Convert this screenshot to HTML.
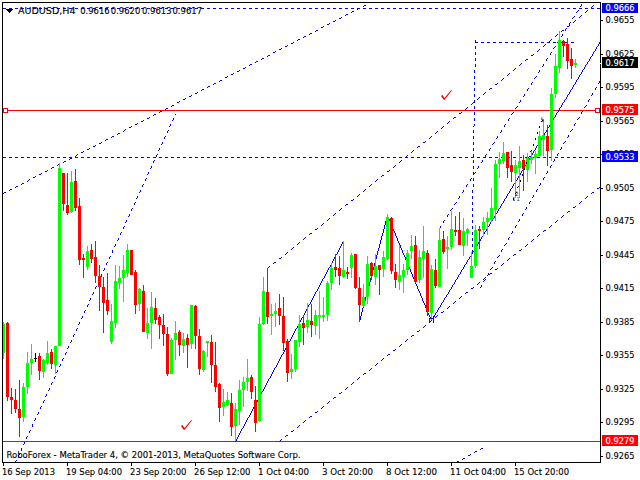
<!DOCTYPE html>
<html><head><meta charset="utf-8"><style>
html,body{margin:0;padding:0;background:#fff;width:640px;height:480px;overflow:hidden}
svg{display:block}
text{font-family:"DejaVu Sans Condensed","Liberation Sans",sans-serif;font-size:9.5px;fill:#000;stroke:#000;stroke-width:0.12px}
.w{fill:#fff;stroke:#fff}
</style></head><body>
<svg width="640" height="480" viewBox="0 0 640 480">
<rect x="0" y="0" width="640" height="480" fill="#fff"/>
<defs><clipPath id="ca"><rect x="3" y="3" width="597" height="459"/></clipPath></defs>
<g clip-path="url(#ca)" shape-rendering="crispEdges">
<rect x="3" y="8" width="3" height="1" fill="#0000ff"/><rect x="9" y="8" width="3" height="1" fill="#0000ff"/><rect x="15" y="8" width="3" height="1" fill="#0000ff"/><rect x="21" y="8" width="3" height="1" fill="#0000ff"/><rect x="27" y="8" width="3" height="1" fill="#0000ff"/><rect x="33" y="8" width="3" height="1" fill="#0000ff"/><rect x="39" y="8" width="3" height="1" fill="#0000ff"/><rect x="45" y="8" width="3" height="1" fill="#0000ff"/><rect x="51" y="8" width="3" height="1" fill="#0000ff"/><rect x="57" y="8" width="3" height="1" fill="#0000ff"/><rect x="63" y="8" width="3" height="1" fill="#0000ff"/><rect x="69" y="8" width="3" height="1" fill="#0000ff"/><rect x="75" y="8" width="3" height="1" fill="#0000ff"/><rect x="81" y="8" width="3" height="1" fill="#0000ff"/><rect x="87" y="8" width="3" height="1" fill="#0000ff"/><rect x="93" y="8" width="3" height="1" fill="#0000ff"/><rect x="99" y="8" width="3" height="1" fill="#0000ff"/><rect x="105" y="8" width="3" height="1" fill="#0000ff"/><rect x="111" y="8" width="3" height="1" fill="#0000ff"/><rect x="117" y="8" width="3" height="1" fill="#0000ff"/><rect x="123" y="8" width="3" height="1" fill="#0000ff"/><rect x="129" y="8" width="3" height="1" fill="#0000ff"/><rect x="135" y="8" width="3" height="1" fill="#0000ff"/><rect x="141" y="8" width="3" height="1" fill="#0000ff"/><rect x="147" y="8" width="3" height="1" fill="#0000ff"/><rect x="153" y="8" width="3" height="1" fill="#0000ff"/><rect x="159" y="8" width="3" height="1" fill="#0000ff"/><rect x="165" y="8" width="3" height="1" fill="#0000ff"/><rect x="171" y="8" width="3" height="1" fill="#0000ff"/><rect x="177" y="8" width="3" height="1" fill="#0000ff"/><rect x="183" y="8" width="3" height="1" fill="#0000ff"/><rect x="189" y="8" width="3" height="1" fill="#0000ff"/><rect x="195" y="8" width="3" height="1" fill="#0000ff"/><rect x="201" y="8" width="3" height="1" fill="#0000ff"/><rect x="207" y="8" width="3" height="1" fill="#0000ff"/><rect x="213" y="8" width="3" height="1" fill="#0000ff"/><rect x="219" y="8" width="3" height="1" fill="#0000ff"/><rect x="225" y="8" width="3" height="1" fill="#0000ff"/><rect x="231" y="8" width="3" height="1" fill="#0000ff"/><rect x="237" y="8" width="3" height="1" fill="#0000ff"/><rect x="243" y="8" width="3" height="1" fill="#0000ff"/><rect x="249" y="8" width="3" height="1" fill="#0000ff"/><rect x="255" y="8" width="3" height="1" fill="#0000ff"/><rect x="261" y="8" width="3" height="1" fill="#0000ff"/><rect x="267" y="8" width="3" height="1" fill="#0000ff"/><rect x="273" y="8" width="3" height="1" fill="#0000ff"/><rect x="279" y="8" width="3" height="1" fill="#0000ff"/><rect x="285" y="8" width="3" height="1" fill="#0000ff"/><rect x="291" y="8" width="3" height="1" fill="#0000ff"/><rect x="297" y="8" width="3" height="1" fill="#0000ff"/><rect x="303" y="8" width="3" height="1" fill="#0000ff"/><rect x="309" y="8" width="3" height="1" fill="#0000ff"/><rect x="315" y="8" width="3" height="1" fill="#0000ff"/><rect x="321" y="8" width="3" height="1" fill="#0000ff"/><rect x="327" y="8" width="3" height="1" fill="#0000ff"/><rect x="333" y="8" width="3" height="1" fill="#0000ff"/><rect x="339" y="8" width="3" height="1" fill="#0000ff"/><rect x="345" y="8" width="3" height="1" fill="#0000ff"/><rect x="351" y="8" width="3" height="1" fill="#0000ff"/><rect x="357" y="8" width="3" height="1" fill="#0000ff"/><rect x="363" y="8" width="3" height="1" fill="#0000ff"/><rect x="369" y="8" width="3" height="1" fill="#0000ff"/><rect x="375" y="8" width="3" height="1" fill="#0000ff"/><rect x="381" y="8" width="3" height="1" fill="#0000ff"/><rect x="387" y="8" width="3" height="1" fill="#0000ff"/><rect x="393" y="8" width="3" height="1" fill="#0000ff"/><rect x="399" y="8" width="3" height="1" fill="#0000ff"/><rect x="405" y="8" width="3" height="1" fill="#0000ff"/><rect x="411" y="8" width="3" height="1" fill="#0000ff"/><rect x="417" y="8" width="3" height="1" fill="#0000ff"/><rect x="423" y="8" width="3" height="1" fill="#0000ff"/><rect x="429" y="8" width="3" height="1" fill="#0000ff"/><rect x="435" y="8" width="3" height="1" fill="#0000ff"/><rect x="441" y="8" width="3" height="1" fill="#0000ff"/><rect x="447" y="8" width="3" height="1" fill="#0000ff"/><rect x="453" y="8" width="3" height="1" fill="#0000ff"/><rect x="459" y="8" width="3" height="1" fill="#0000ff"/><rect x="465" y="8" width="3" height="1" fill="#0000ff"/><rect x="471" y="8" width="3" height="1" fill="#0000ff"/><rect x="477" y="8" width="3" height="1" fill="#0000ff"/><rect x="483" y="8" width="3" height="1" fill="#0000ff"/><rect x="489" y="8" width="3" height="1" fill="#0000ff"/><rect x="495" y="8" width="3" height="1" fill="#0000ff"/><rect x="501" y="8" width="3" height="1" fill="#0000ff"/><rect x="507" y="8" width="3" height="1" fill="#0000ff"/><rect x="513" y="8" width="3" height="1" fill="#0000ff"/><rect x="519" y="8" width="3" height="1" fill="#0000ff"/><rect x="525" y="8" width="3" height="1" fill="#0000ff"/><rect x="531" y="8" width="3" height="1" fill="#0000ff"/><rect x="537" y="8" width="3" height="1" fill="#0000ff"/><rect x="543" y="8" width="3" height="1" fill="#0000ff"/><rect x="549" y="8" width="3" height="1" fill="#0000ff"/><rect x="555" y="8" width="3" height="1" fill="#0000ff"/><rect x="561" y="8" width="3" height="1" fill="#0000ff"/><rect x="567" y="8" width="3" height="1" fill="#0000ff"/><rect x="573" y="8" width="3" height="1" fill="#0000ff"/><rect x="579" y="8" width="3" height="1" fill="#0000ff"/><rect x="585" y="8" width="3" height="1" fill="#0000ff"/><rect x="591" y="8" width="3" height="1" fill="#0000ff"/><rect x="597" y="8" width="3" height="1" fill="#0000ff"/><rect x="3" y="157" width="3" height="1" fill="#0000ff"/><rect x="9" y="157" width="3" height="1" fill="#0000ff"/><rect x="15" y="157" width="3" height="1" fill="#0000ff"/><rect x="21" y="157" width="3" height="1" fill="#0000ff"/><rect x="27" y="157" width="3" height="1" fill="#0000ff"/><rect x="33" y="157" width="3" height="1" fill="#0000ff"/><rect x="39" y="157" width="3" height="1" fill="#0000ff"/><rect x="45" y="157" width="3" height="1" fill="#0000ff"/><rect x="51" y="157" width="3" height="1" fill="#0000ff"/><rect x="57" y="157" width="3" height="1" fill="#0000ff"/><rect x="63" y="157" width="3" height="1" fill="#0000ff"/><rect x="69" y="157" width="3" height="1" fill="#0000ff"/><rect x="75" y="157" width="3" height="1" fill="#0000ff"/><rect x="81" y="157" width="3" height="1" fill="#0000ff"/><rect x="87" y="157" width="3" height="1" fill="#0000ff"/><rect x="93" y="157" width="3" height="1" fill="#0000ff"/><rect x="99" y="157" width="3" height="1" fill="#0000ff"/><rect x="105" y="157" width="3" height="1" fill="#0000ff"/><rect x="111" y="157" width="3" height="1" fill="#0000ff"/><rect x="117" y="157" width="3" height="1" fill="#0000ff"/><rect x="123" y="157" width="3" height="1" fill="#0000ff"/><rect x="129" y="157" width="3" height="1" fill="#0000ff"/><rect x="135" y="157" width="3" height="1" fill="#0000ff"/><rect x="141" y="157" width="3" height="1" fill="#0000ff"/><rect x="147" y="157" width="3" height="1" fill="#0000ff"/><rect x="153" y="157" width="3" height="1" fill="#0000ff"/><rect x="159" y="157" width="3" height="1" fill="#0000ff"/><rect x="165" y="157" width="3" height="1" fill="#0000ff"/><rect x="171" y="157" width="3" height="1" fill="#0000ff"/><rect x="177" y="157" width="3" height="1" fill="#0000ff"/><rect x="183" y="157" width="3" height="1" fill="#0000ff"/><rect x="189" y="157" width="3" height="1" fill="#0000ff"/><rect x="195" y="157" width="3" height="1" fill="#0000ff"/><rect x="201" y="157" width="3" height="1" fill="#0000ff"/><rect x="207" y="157" width="3" height="1" fill="#0000ff"/><rect x="213" y="157" width="3" height="1" fill="#0000ff"/><rect x="219" y="157" width="3" height="1" fill="#0000ff"/><rect x="225" y="157" width="3" height="1" fill="#0000ff"/><rect x="231" y="157" width="3" height="1" fill="#0000ff"/><rect x="237" y="157" width="3" height="1" fill="#0000ff"/><rect x="243" y="157" width="3" height="1" fill="#0000ff"/><rect x="249" y="157" width="3" height="1" fill="#0000ff"/><rect x="255" y="157" width="3" height="1" fill="#0000ff"/><rect x="261" y="157" width="3" height="1" fill="#0000ff"/><rect x="267" y="157" width="3" height="1" fill="#0000ff"/><rect x="273" y="157" width="3" height="1" fill="#0000ff"/><rect x="279" y="157" width="3" height="1" fill="#0000ff"/><rect x="285" y="157" width="3" height="1" fill="#0000ff"/><rect x="291" y="157" width="3" height="1" fill="#0000ff"/><rect x="297" y="157" width="3" height="1" fill="#0000ff"/><rect x="303" y="157" width="3" height="1" fill="#0000ff"/><rect x="309" y="157" width="3" height="1" fill="#0000ff"/><rect x="315" y="157" width="3" height="1" fill="#0000ff"/><rect x="321" y="157" width="3" height="1" fill="#0000ff"/><rect x="327" y="157" width="3" height="1" fill="#0000ff"/><rect x="333" y="157" width="3" height="1" fill="#0000ff"/><rect x="339" y="157" width="3" height="1" fill="#0000ff"/><rect x="345" y="157" width="3" height="1" fill="#0000ff"/><rect x="351" y="157" width="3" height="1" fill="#0000ff"/><rect x="357" y="157" width="3" height="1" fill="#0000ff"/><rect x="363" y="157" width="3" height="1" fill="#0000ff"/><rect x="369" y="157" width="3" height="1" fill="#0000ff"/><rect x="375" y="157" width="3" height="1" fill="#0000ff"/><rect x="381" y="157" width="3" height="1" fill="#0000ff"/><rect x="387" y="157" width="3" height="1" fill="#0000ff"/><rect x="393" y="157" width="3" height="1" fill="#0000ff"/><rect x="399" y="157" width="3" height="1" fill="#0000ff"/><rect x="405" y="157" width="3" height="1" fill="#0000ff"/><rect x="411" y="157" width="3" height="1" fill="#0000ff"/><rect x="417" y="157" width="3" height="1" fill="#0000ff"/><rect x="423" y="157" width="3" height="1" fill="#0000ff"/><rect x="429" y="157" width="3" height="1" fill="#0000ff"/><rect x="435" y="157" width="3" height="1" fill="#0000ff"/><rect x="441" y="157" width="3" height="1" fill="#0000ff"/><rect x="447" y="157" width="3" height="1" fill="#0000ff"/><rect x="453" y="157" width="3" height="1" fill="#0000ff"/><rect x="459" y="157" width="3" height="1" fill="#0000ff"/><rect x="465" y="157" width="3" height="1" fill="#0000ff"/><rect x="471" y="157" width="3" height="1" fill="#0000ff"/><rect x="477" y="157" width="3" height="1" fill="#0000ff"/><rect x="483" y="157" width="3" height="1" fill="#0000ff"/><rect x="489" y="157" width="3" height="1" fill="#0000ff"/><rect x="495" y="157" width="3" height="1" fill="#0000ff"/><rect x="501" y="157" width="3" height="1" fill="#0000ff"/><rect x="507" y="157" width="3" height="1" fill="#0000ff"/><rect x="513" y="157" width="3" height="1" fill="#0000ff"/><rect x="519" y="157" width="3" height="1" fill="#0000ff"/><rect x="525" y="157" width="3" height="1" fill="#0000ff"/><rect x="531" y="157" width="3" height="1" fill="#0000ff"/><rect x="537" y="157" width="3" height="1" fill="#0000ff"/><rect x="543" y="157" width="3" height="1" fill="#0000ff"/><rect x="549" y="157" width="3" height="1" fill="#0000ff"/><rect x="555" y="157" width="3" height="1" fill="#0000ff"/><rect x="561" y="157" width="3" height="1" fill="#0000ff"/><rect x="567" y="157" width="3" height="1" fill="#0000ff"/><rect x="573" y="157" width="3" height="1" fill="#0000ff"/><rect x="579" y="157" width="3" height="1" fill="#0000ff"/><rect x="585" y="157" width="3" height="1" fill="#0000ff"/><rect x="591" y="157" width="3" height="1" fill="#0000ff"/><rect x="597" y="157" width="3" height="1" fill="#0000ff"/><rect x="475" y="42" width="3" height="1" fill="#0000ff"/><rect x="481" y="42" width="3" height="1" fill="#0000ff"/><rect x="487" y="42" width="3" height="1" fill="#0000ff"/><rect x="493" y="42" width="3" height="1" fill="#0000ff"/><rect x="499" y="42" width="3" height="1" fill="#0000ff"/><rect x="505" y="42" width="3" height="1" fill="#0000ff"/><rect x="511" y="42" width="3" height="1" fill="#0000ff"/><rect x="517" y="42" width="3" height="1" fill="#0000ff"/><rect x="523" y="42" width="3" height="1" fill="#0000ff"/><rect x="529" y="42" width="3" height="1" fill="#0000ff"/><rect x="535" y="42" width="3" height="1" fill="#0000ff"/><rect x="541" y="42" width="3" height="1" fill="#0000ff"/><rect x="547" y="42" width="3" height="1" fill="#0000ff"/><rect x="553" y="42" width="3" height="1" fill="#0000ff"/><rect x="559" y="42" width="3" height="1" fill="#0000ff"/><rect x="565" y="42" width="3" height="1" fill="#0000ff"/><rect x="571" y="42" width="3" height="1" fill="#0000ff"/><rect x="3" y="110" width="597" height="1" fill="#ff0000"/><rect x="3" y="441" width="597" height="1" fill="#ff0000"/><rect x="3.5" y="108.5" width="4" height="4" fill="#fff" stroke="#ff0000"/><rect x="595.5" y="108.5" width="4" height="4" fill="#fff" stroke="#ff0000"/>
<path d="M3,193h1v1h-1zM4,192h1v1h-1zM5,192h1v1h-1zM9,190h1v1h-1zM10,189h1v1h-1zM11,189h1v1h-1zM15,187h1v1h-1zM16,186h1v1h-1zM17,186h1v1h-1zM21,184h1v1h-1zM22,183h1v1h-1zM23,183h1v1h-1zM27,181h1v1h-1zM28,180h1v1h-1zM29,179h1v1h-1zM33,177h1v1h-1zM34,177h1v1h-1zM35,176h1v1h-1zM39,174h1v1h-1zM40,174h1v1h-1zM41,173h1v1h-1zM45,171h1v1h-1zM46,171h1v1h-1zM47,170h1v1h-1zM51,168h1v1h-1zM52,167h1v1h-1zM53,167h1v1h-1zM57,165h1v1h-1zM58,164h1v1h-1zM59,164h1v1h-1zM63,162h1v1h-1zM64,161h1v1h-1zM65,161h1v1h-1zM69,159h1v1h-1zM70,158h1v1h-1zM71,158h1v1h-1zM75,156h1v1h-1zM76,155h1v1h-1zM77,154h1v1h-1zM81,152h1v1h-1zM82,152h1v1h-1zM83,151h1v1h-1zM87,149h1v1h-1zM88,149h1v1h-1zM89,148h1v1h-1zM93,146h1v1h-1zM94,146h1v1h-1zM95,145h1v1h-1zM99,143h1v1h-1zM100,143h1v1h-1zM101,142h1v1h-1zM105,140h1v1h-1zM106,139h1v1h-1zM107,139h1v1h-1zM111,137h1v1h-1zM112,136h1v1h-1zM113,136h1v1h-1zM117,134h1v1h-1zM118,133h1v1h-1zM119,133h1v1h-1zM123,131h1v1h-1zM124,130h1v1h-1zM125,129h1v1h-1zM129,127h1v1h-1zM130,127h1v1h-1zM131,126h1v1h-1zM135,124h1v1h-1zM136,124h1v1h-1zM137,123h1v1h-1zM141,121h1v1h-1zM142,121h1v1h-1zM143,120h1v1h-1zM147,118h1v1h-1zM148,118h1v1h-1zM149,117h1v1h-1zM153,115h1v1h-1zM154,114h1v1h-1zM155,114h1v1h-1zM159,112h1v1h-1zM160,111h1v1h-1zM161,111h1v1h-1zM165,109h1v1h-1zM166,108h1v1h-1zM167,108h1v1h-1zM171,106h1v1h-1zM172,105h1v1h-1zM173,105h1v1h-1zM177,102h1v1h-1zM178,102h1v1h-1zM179,101h1v1h-1zM183,99h1v1h-1zM184,99h1v1h-1zM185,98h1v1h-1zM189,96h1v1h-1zM190,96h1v1h-1zM191,95h1v1h-1zM195,93h1v1h-1zM196,93h1v1h-1zM197,92h1v1h-1zM201,90h1v1h-1zM202,89h1v1h-1zM203,89h1v1h-1zM207,87h1v1h-1zM208,86h1v1h-1zM209,86h1v1h-1zM213,84h1v1h-1zM214,83h1v1h-1zM215,83h1v1h-1zM219,81h1v1h-1zM220,80h1v1h-1zM221,80h1v1h-1zM225,77h1v1h-1zM226,77h1v1h-1zM227,76h1v1h-1zM231,74h1v1h-1zM232,74h1v1h-1zM233,73h1v1h-1zM237,71h1v1h-1zM238,71h1v1h-1zM239,70h1v1h-1zM243,68h1v1h-1zM244,68h1v1h-1zM245,67h1v1h-1zM249,65h1v1h-1zM250,64h1v1h-1zM251,64h1v1h-1zM255,62h1v1h-1zM256,61h1v1h-1zM257,61h1v1h-1zM261,59h1v1h-1zM262,58h1v1h-1zM263,58h1v1h-1zM267,56h1v1h-1zM268,55h1v1h-1zM269,55h1v1h-1zM273,52h1v1h-1zM274,52h1v1h-1zM275,51h1v1h-1zM279,49h1v1h-1zM280,49h1v1h-1zM281,48h1v1h-1zM285,46h1v1h-1zM286,46h1v1h-1zM287,45h1v1h-1zM291,43h1v1h-1zM292,43h1v1h-1zM293,42h1v1h-1zM297,40h1v1h-1zM298,39h1v1h-1zM299,39h1v1h-1zM303,37h1v1h-1zM304,36h1v1h-1zM305,36h1v1h-1zM309,34h1v1h-1zM310,33h1v1h-1zM311,33h1v1h-1zM315,31h1v1h-1zM316,30h1v1h-1zM317,30h1v1h-1zM321,27h1v1h-1zM322,27h1v1h-1zM323,26h1v1h-1zM327,24h1v1h-1zM328,24h1v1h-1zM329,23h1v1h-1zM333,21h1v1h-1zM334,21h1v1h-1zM335,20h1v1h-1zM339,18h1v1h-1zM340,18h1v1h-1zM341,17h1v1h-1zM345,15h1v1h-1zM346,14h1v1h-1zM347,14h1v1h-1zM351,12h1v1h-1zM352,11h1v1h-1zM353,11h1v1h-1zM357,9h1v1h-1zM358,8h1v1h-1zM359,8h1v1h-1zM363,6h1v1h-1zM364,5h1v1h-1zM365,5h1v1h-1zM15,461h1v1h-1zM16,460h1v1h-1zM18,456h1v1h-1zM18,455h1v1h-1zM19,454h1v1h-1zM21,450h1v1h-1zM21,449h1v1h-1zM21,448h1v1h-1zM23,444h1v1h-1zM24,443h1v1h-1zM24,442h1v1h-1zM26,438h1v1h-1zM26,437h1v1h-1zM27,436h1v1h-1zM29,432h1v1h-1zM29,431h1v1h-1zM30,430h1v1h-1zM32,426h1v1h-1zM32,425h1v1h-1zM32,424h1v1h-1zM34,420h1v1h-1zM35,419h1v1h-1zM35,418h1v1h-1zM37,414h1v1h-1zM38,413h1v1h-1zM38,412h1v1h-1zM40,408h1v1h-1zM40,407h1v1h-1zM41,406h1v1h-1zM43,402h1v1h-1zM43,401h1v1h-1zM44,400h1v1h-1zM45,396h1v1h-1zM46,395h1v1h-1zM46,394h1v1h-1zM48,390h1v1h-1zM49,389h1v1h-1zM49,388h1v1h-1zM51,384h1v1h-1zM51,383h1v1h-1zM52,382h1v1h-1zM54,378h1v1h-1zM54,377h1v1h-1zM55,376h1v1h-1zM56,372h1v1h-1zM57,371h1v1h-1zM57,370h1v1h-1zM59,366h1v1h-1zM60,365h1v1h-1zM60,364h1v1h-1zM62,360h1v1h-1zM62,359h1v1h-1zM63,358h1v1h-1zM65,354h1v1h-1zM65,353h1v1h-1zM66,352h1v1h-1zM67,348h1v1h-1zM68,347h1v1h-1zM68,346h1v1h-1zM70,342h1v1h-1zM71,341h1v1h-1zM71,340h1v1h-1zM73,336h1v1h-1zM73,335h1v1h-1zM74,334h1v1h-1zM76,330h1v1h-1zM76,329h1v1h-1zM77,328h1v1h-1zM78,324h1v1h-1zM79,323h1v1h-1zM79,322h1v1h-1zM81,318h1v1h-1zM82,317h1v1h-1zM82,316h1v1h-1zM84,312h1v1h-1zM84,311h1v1h-1zM85,310h1v1h-1zM87,306h1v1h-1zM87,305h1v1h-1zM88,304h1v1h-1zM89,300h1v1h-1zM90,299h1v1h-1zM90,298h1v1h-1zM92,294h1v1h-1zM93,293h1v1h-1zM93,292h1v1h-1zM95,288h1v1h-1zM95,287h1v1h-1zM96,286h1v1h-1zM98,282h1v1h-1zM98,281h1v1h-1zM99,280h1v1h-1zM101,276h1v1h-1zM101,275h1v1h-1zM101,274h1v1h-1zM103,270h1v1h-1zM104,269h1v1h-1zM104,268h1v1h-1zM106,264h1v1h-1zM106,263h1v1h-1zM107,262h1v1h-1zM109,258h1v1h-1zM109,257h1v1h-1zM110,256h1v1h-1zM112,252h1v1h-1zM112,251h1v1h-1zM112,250h1v1h-1zM114,246h1v1h-1zM115,245h1v1h-1zM115,244h1v1h-1zM117,240h1v1h-1zM118,239h1v1h-1zM118,238h1v1h-1zM120,234h1v1h-1zM120,233h1v1h-1zM121,232h1v1h-1zM123,228h1v1h-1zM123,227h1v1h-1zM124,226h1v1h-1zM125,222h1v1h-1zM126,221h1v1h-1zM126,220h1v1h-1zM128,216h1v1h-1zM129,215h1v1h-1zM129,214h1v1h-1zM131,210h1v1h-1zM131,209h1v1h-1zM132,208h1v1h-1zM134,204h1v1h-1zM134,203h1v1h-1zM135,202h1v1h-1zM136,198h1v1h-1zM137,197h1v1h-1zM137,196h1v1h-1zM139,192h1v1h-1zM140,191h1v1h-1zM140,190h1v1h-1zM142,186h1v1h-1zM142,185h1v1h-1zM143,184h1v1h-1zM145,180h1v1h-1zM145,179h1v1h-1zM146,178h1v1h-1zM147,174h1v1h-1zM148,173h1v1h-1zM148,172h1v1h-1zM150,168h1v1h-1zM151,167h1v1h-1zM151,166h1v1h-1zM153,162h1v1h-1zM153,161h1v1h-1zM154,160h1v1h-1zM156,156h1v1h-1zM156,155h1v1h-1zM157,154h1v1h-1zM158,150h1v1h-1zM159,149h1v1h-1zM159,148h1v1h-1zM161,144h1v1h-1zM162,143h1v1h-1zM162,142h1v1h-1zM164,138h1v1h-1zM164,137h1v1h-1zM165,136h1v1h-1zM167,132h1v1h-1zM167,131h1v1h-1zM168,130h1v1h-1zM169,126h1v1h-1zM170,125h1v1h-1zM170,124h1v1h-1zM172,120h1v1h-1zM173,119h1v1h-1zM173,118h1v1h-1zM175,114h1v1h-1zM235,441h1v1h-1zM236,440h1v1h-1zM236,439h1v1h-1zM237,438h1v1h-1zM237,437h1v1h-1zM238,436h1v1h-1zM238,435h1v1h-1zM239,434h1v1h-1zM239,433h1v1h-1zM240,432h1v1h-1zM240,431h1v1h-1zM241,430h1v1h-1zM241,429h1v1h-1zM242,428h1v1h-1zM243,427h1v1h-1zM243,426h1v1h-1zM244,425h1v1h-1zM244,424h1v1h-1zM245,423h1v1h-1zM245,422h1v1h-1zM246,421h1v1h-1zM246,420h1v1h-1zM247,419h1v1h-1zM247,418h1v1h-1zM248,417h1v1h-1zM249,416h1v1h-1zM249,415h1v1h-1zM250,414h1v1h-1zM250,413h1v1h-1zM251,412h1v1h-1zM251,411h1v1h-1zM252,410h1v1h-1zM252,409h1v1h-1zM253,408h1v1h-1zM253,407h1v1h-1zM254,406h1v1h-1zM254,405h1v1h-1zM255,404h1v1h-1zM256,403h1v1h-1zM256,402h1v1h-1zM257,401h1v1h-1zM257,400h1v1h-1zM258,399h1v1h-1zM258,398h1v1h-1zM259,397h1v1h-1zM259,396h1v1h-1zM260,395h1v1h-1zM260,394h1v1h-1zM261,393h1v1h-1zM261,392h1v1h-1zM262,391h1v1h-1zM263,390h1v1h-1zM263,389h1v1h-1zM264,388h1v1h-1zM264,387h1v1h-1zM265,386h1v1h-1zM265,385h1v1h-1zM266,384h1v1h-1zM266,383h1v1h-1zM267,382h1v1h-1zM267,381h1v1h-1zM268,380h1v1h-1zM268,379h1v1h-1zM269,378h1v1h-1zM270,377h1v1h-1zM270,376h1v1h-1zM271,375h1v1h-1zM271,374h1v1h-1zM272,373h1v1h-1zM272,372h1v1h-1zM273,371h1v1h-1zM273,370h1v1h-1zM274,369h1v1h-1zM274,368h1v1h-1zM275,367h1v1h-1zM276,366h1v1h-1zM276,365h1v1h-1zM277,364h1v1h-1zM277,363h1v1h-1zM278,362h1v1h-1zM278,361h1v1h-1zM279,360h1v1h-1zM279,359h1v1h-1zM280,358h1v1h-1zM280,357h1v1h-1zM281,356h1v1h-1zM281,355h1v1h-1zM282,354h1v1h-1zM283,353h1v1h-1zM283,352h1v1h-1zM284,351h1v1h-1zM284,350h1v1h-1zM285,349h1v1h-1zM285,348h1v1h-1zM286,347h1v1h-1zM286,346h1v1h-1zM287,345h1v1h-1zM287,344h1v1h-1zM288,343h1v1h-1zM288,342h1v1h-1zM289,341h1v1h-1zM290,340h1v1h-1zM290,339h1v1h-1zM291,338h1v1h-1zM291,337h1v1h-1zM292,336h1v1h-1zM292,335h1v1h-1zM293,334h1v1h-1zM293,333h1v1h-1zM294,332h1v1h-1zM294,331h1v1h-1zM295,330h1v1h-1zM295,329h1v1h-1zM296,328h1v1h-1zM297,327h1v1h-1zM297,326h1v1h-1zM298,325h1v1h-1zM298,324h1v1h-1zM299,323h1v1h-1zM299,322h1v1h-1zM300,321h1v1h-1zM300,320h1v1h-1zM301,319h1v1h-1zM301,318h1v1h-1zM302,317h1v1h-1zM303,316h1v1h-1zM303,315h1v1h-1zM304,314h1v1h-1zM304,313h1v1h-1zM305,312h1v1h-1zM305,311h1v1h-1zM306,310h1v1h-1zM306,309h1v1h-1zM307,308h1v1h-1zM307,307h1v1h-1zM308,306h1v1h-1zM308,305h1v1h-1zM309,304h1v1h-1zM310,303h1v1h-1zM310,302h1v1h-1zM311,301h1v1h-1zM311,300h1v1h-1zM312,299h1v1h-1zM312,298h1v1h-1zM313,297h1v1h-1zM313,296h1v1h-1zM314,295h1v1h-1zM314,294h1v1h-1zM315,293h1v1h-1zM315,292h1v1h-1zM316,291h1v1h-1zM317,290h1v1h-1zM317,289h1v1h-1zM318,288h1v1h-1zM318,287h1v1h-1zM319,286h1v1h-1zM319,285h1v1h-1zM320,284h1v1h-1zM320,283h1v1h-1zM321,282h1v1h-1zM321,281h1v1h-1zM322,280h1v1h-1zM322,279h1v1h-1zM323,278h1v1h-1zM324,277h1v1h-1zM324,276h1v1h-1zM325,275h1v1h-1zM325,274h1v1h-1zM326,273h1v1h-1zM326,272h1v1h-1zM327,271h1v1h-1zM327,270h1v1h-1zM328,269h1v1h-1zM328,268h1v1h-1zM329,267h1v1h-1zM330,266h1v1h-1zM330,265h1v1h-1zM331,264h1v1h-1zM331,263h1v1h-1zM332,262h1v1h-1zM332,261h1v1h-1zM333,260h1v1h-1zM333,259h1v1h-1zM334,258h1v1h-1zM334,257h1v1h-1zM335,256h1v1h-1zM335,255h1v1h-1zM336,254h1v1h-1zM337,253h1v1h-1zM337,252h1v1h-1zM338,251h1v1h-1zM338,250h1v1h-1zM339,249h1v1h-1zM339,248h1v1h-1zM340,247h1v1h-1zM340,246h1v1h-1zM341,245h1v1h-1zM341,244h1v1h-1zM342,243h1v1h-1zM342,242h1v1h-1zM343,241h1v1h-1zM359,321h1v1h-1zM359,320h1v1h-1zM360,319h1v1h-1zM360,318h1v1h-1zM360,317h1v1h-1zM360,316h1v1h-1zM361,315h1v1h-1zM361,314h1v1h-1zM361,313h1v1h-1zM361,312h1v1h-1zM362,311h1v1h-1zM362,310h1v1h-1zM362,309h1v1h-1zM362,308h1v1h-1zM363,307h1v1h-1zM363,306h1v1h-1zM363,305h1v1h-1zM363,304h1v1h-1zM364,303h1v1h-1zM364,302h1v1h-1zM364,301h1v1h-1zM365,300h1v1h-1zM365,299h1v1h-1zM365,298h1v1h-1zM365,297h1v1h-1zM366,296h1v1h-1zM366,295h1v1h-1zM366,294h1v1h-1zM366,293h1v1h-1zM367,292h1v1h-1zM367,291h1v1h-1zM367,290h1v1h-1zM367,289h1v1h-1zM368,288h1v1h-1zM368,287h1v1h-1zM368,286h1v1h-1zM369,285h1v1h-1zM369,284h1v1h-1zM369,283h1v1h-1zM369,282h1v1h-1zM370,281h1v1h-1zM370,280h1v1h-1zM370,279h1v1h-1zM370,278h1v1h-1zM371,277h1v1h-1zM371,276h1v1h-1zM371,275h1v1h-1zM371,274h1v1h-1zM372,273h1v1h-1zM372,272h1v1h-1zM372,271h1v1h-1zM372,270h1v1h-1zM373,269h1v1h-1zM373,268h1v1h-1zM373,267h1v1h-1zM374,266h1v1h-1zM374,265h1v1h-1zM374,264h1v1h-1zM374,263h1v1h-1zM375,262h1v1h-1zM375,261h1v1h-1zM375,260h1v1h-1zM375,259h1v1h-1zM376,258h1v1h-1zM376,257h1v1h-1zM376,256h1v1h-1zM376,255h1v1h-1zM377,254h1v1h-1zM377,253h1v1h-1zM377,252h1v1h-1zM377,251h1v1h-1zM378,250h1v1h-1zM378,249h1v1h-1zM378,248h1v1h-1zM379,247h1v1h-1zM379,246h1v1h-1zM379,245h1v1h-1zM379,244h1v1h-1zM380,243h1v1h-1zM380,242h1v1h-1zM380,241h1v1h-1zM380,240h1v1h-1zM381,239h1v1h-1zM381,238h1v1h-1zM381,237h1v1h-1zM381,236h1v1h-1zM382,235h1v1h-1zM382,234h1v1h-1zM382,233h1v1h-1zM383,232h1v1h-1zM383,231h1v1h-1zM383,230h1v1h-1zM383,229h1v1h-1zM384,228h1v1h-1zM384,227h1v1h-1zM384,226h1v1h-1zM384,225h1v1h-1zM385,224h1v1h-1zM385,223h1v1h-1zM385,222h1v1h-1zM385,221h1v1h-1zM386,220h1v1h-1zM386,219h1v1h-1zM386,218h1v1h-1zM386,217h1v1h-1zM387,216h1v1h-1zM387,215h1v1h-1zM387,215h1v1h-1zM387,216h1v1h-1zM388,217h1v1h-1zM388,218h1v1h-1zM389,219h1v1h-1zM389,220h1v1h-1zM390,221h1v1h-1zM390,222h1v1h-1zM390,223h1v1h-1zM391,224h1v1h-1zM391,225h1v1h-1zM392,226h1v1h-1zM392,227h1v1h-1zM392,228h1v1h-1zM393,229h1v1h-1zM393,230h1v1h-1zM394,231h1v1h-1zM394,232h1v1h-1zM395,233h1v1h-1zM395,234h1v1h-1zM395,235h1v1h-1zM396,236h1v1h-1zM396,237h1v1h-1zM397,238h1v1h-1zM397,239h1v1h-1zM397,240h1v1h-1zM398,241h1v1h-1zM398,242h1v1h-1zM399,243h1v1h-1zM399,244h1v1h-1zM400,245h1v1h-1zM400,246h1v1h-1zM400,247h1v1h-1zM401,248h1v1h-1zM401,249h1v1h-1zM402,250h1v1h-1zM402,251h1v1h-1zM402,252h1v1h-1zM403,253h1v1h-1zM403,254h1v1h-1zM404,255h1v1h-1zM404,256h1v1h-1zM405,257h1v1h-1zM405,258h1v1h-1zM405,259h1v1h-1zM406,260h1v1h-1zM406,261h1v1h-1zM407,262h1v1h-1zM407,263h1v1h-1zM407,264h1v1h-1zM408,265h1v1h-1zM408,266h1v1h-1zM409,267h1v1h-1zM409,268h1v1h-1zM410,269h1v1h-1zM410,270h1v1h-1zM410,271h1v1h-1zM411,272h1v1h-1zM411,273h1v1h-1zM412,274h1v1h-1zM412,275h1v1h-1zM412,276h1v1h-1zM413,277h1v1h-1zM413,278h1v1h-1zM414,279h1v1h-1zM414,280h1v1h-1zM415,281h1v1h-1zM415,282h1v1h-1zM415,283h1v1h-1zM416,284h1v1h-1zM416,285h1v1h-1zM417,286h1v1h-1zM417,287h1v1h-1zM417,288h1v1h-1zM418,289h1v1h-1zM418,290h1v1h-1zM419,291h1v1h-1zM419,292h1v1h-1zM420,293h1v1h-1zM420,294h1v1h-1zM420,295h1v1h-1zM421,296h1v1h-1zM421,297h1v1h-1zM422,298h1v1h-1zM422,299h1v1h-1zM422,300h1v1h-1zM423,301h1v1h-1zM423,302h1v1h-1zM424,303h1v1h-1zM424,304h1v1h-1zM425,305h1v1h-1zM425,306h1v1h-1zM425,307h1v1h-1zM426,308h1v1h-1zM426,309h1v1h-1zM427,310h1v1h-1zM427,311h1v1h-1zM427,312h1v1h-1zM428,313h1v1h-1zM428,314h1v1h-1zM429,315h1v1h-1zM429,316h1v1h-1zM430,317h1v1h-1zM430,318h1v1h-1zM433,317h1v1h-1zM434,316h1v1h-1zM434,315h1v1h-1zM435,314h1v1h-1zM435,313h1v1h-1zM436,312h1v1h-1zM437,311h1v1h-1zM437,310h1v1h-1zM438,309h1v1h-1zM438,308h1v1h-1zM439,307h1v1h-1zM440,306h1v1h-1zM440,305h1v1h-1zM441,304h1v1h-1zM441,303h1v1h-1zM442,302h1v1h-1zM443,301h1v1h-1zM443,300h1v1h-1zM444,299h1v1h-1zM444,298h1v1h-1zM445,297h1v1h-1zM446,296h1v1h-1zM446,295h1v1h-1zM447,294h1v1h-1zM448,293h1v1h-1zM448,292h1v1h-1zM449,291h1v1h-1zM449,290h1v1h-1zM450,289h1v1h-1zM451,288h1v1h-1zM451,287h1v1h-1zM452,286h1v1h-1zM452,285h1v1h-1zM453,284h1v1h-1zM454,283h1v1h-1zM454,282h1v1h-1zM455,281h1v1h-1zM455,280h1v1h-1zM456,279h1v1h-1zM457,278h1v1h-1zM457,277h1v1h-1zM458,276h1v1h-1zM458,275h1v1h-1zM459,274h1v1h-1zM460,273h1v1h-1zM460,272h1v1h-1zM461,271h1v1h-1zM461,270h1v1h-1zM462,269h1v1h-1zM463,268h1v1h-1zM463,267h1v1h-1zM464,266h1v1h-1zM464,265h1v1h-1zM465,264h1v1h-1zM466,263h1v1h-1zM466,262h1v1h-1zM467,261h1v1h-1zM467,260h1v1h-1zM468,259h1v1h-1zM469,258h1v1h-1zM469,257h1v1h-1zM470,256h1v1h-1zM471,255h1v1h-1zM471,254h1v1h-1zM472,253h1v1h-1zM472,252h1v1h-1zM473,251h1v1h-1zM474,250h1v1h-1zM474,249h1v1h-1zM475,248h1v1h-1zM475,247h1v1h-1zM476,246h1v1h-1zM477,245h1v1h-1zM477,244h1v1h-1zM478,243h1v1h-1zM478,242h1v1h-1zM479,241h1v1h-1zM480,240h1v1h-1zM480,239h1v1h-1zM481,238h1v1h-1zM481,237h1v1h-1zM482,236h1v1h-1zM483,235h1v1h-1zM483,234h1v1h-1zM484,233h1v1h-1zM484,232h1v1h-1zM485,231h1v1h-1zM486,230h1v1h-1zM486,229h1v1h-1zM487,228h1v1h-1zM487,227h1v1h-1zM488,226h1v1h-1zM489,225h1v1h-1zM489,224h1v1h-1zM490,223h1v1h-1zM490,222h1v1h-1zM491,221h1v1h-1zM492,220h1v1h-1zM492,219h1v1h-1zM493,218h1v1h-1zM494,217h1v1h-1zM494,216h1v1h-1zM495,215h1v1h-1zM495,214h1v1h-1zM496,213h1v1h-1zM497,212h1v1h-1zM497,211h1v1h-1zM498,210h1v1h-1zM498,209h1v1h-1zM499,208h1v1h-1zM500,207h1v1h-1zM500,206h1v1h-1zM501,205h1v1h-1zM501,204h1v1h-1zM502,203h1v1h-1zM503,202h1v1h-1zM503,201h1v1h-1zM504,200h1v1h-1zM504,199h1v1h-1zM505,198h1v1h-1zM506,197h1v1h-1zM506,196h1v1h-1zM507,195h1v1h-1zM507,194h1v1h-1zM508,193h1v1h-1zM509,192h1v1h-1zM509,191h1v1h-1zM510,190h1v1h-1zM510,189h1v1h-1zM511,188h1v1h-1zM512,187h1v1h-1zM512,186h1v1h-1zM513,185h1v1h-1zM513,184h1v1h-1zM514,183h1v1h-1zM515,182h1v1h-1zM515,181h1v1h-1zM516,180h1v1h-1zM517,179h1v1h-1zM517,178h1v1h-1zM518,177h1v1h-1zM518,176h1v1h-1zM519,175h1v1h-1zM520,174h1v1h-1zM520,173h1v1h-1zM521,172h1v1h-1zM521,171h1v1h-1zM522,170h1v1h-1zM523,169h1v1h-1zM523,168h1v1h-1zM524,167h1v1h-1zM524,166h1v1h-1zM525,165h1v1h-1zM526,164h1v1h-1zM526,163h1v1h-1zM527,162h1v1h-1zM527,161h1v1h-1zM528,160h1v1h-1zM529,159h1v1h-1zM529,158h1v1h-1zM530,157h1v1h-1zM530,156h1v1h-1zM531,155h1v1h-1zM532,154h1v1h-1zM532,153h1v1h-1zM533,152h1v1h-1zM533,151h1v1h-1zM534,150h1v1h-1zM535,149h1v1h-1zM535,148h1v1h-1zM536,147h1v1h-1zM536,146h1v1h-1zM537,145h1v1h-1zM538,144h1v1h-1zM538,143h1v1h-1zM539,142h1v1h-1zM539,141h1v1h-1zM540,140h1v1h-1zM541,139h1v1h-1zM541,138h1v1h-1zM542,137h1v1h-1zM543,136h1v1h-1zM543,135h1v1h-1zM544,134h1v1h-1zM544,133h1v1h-1zM545,132h1v1h-1zM546,131h1v1h-1zM546,130h1v1h-1zM547,129h1v1h-1zM547,128h1v1h-1zM548,127h1v1h-1zM549,126h1v1h-1zM549,125h1v1h-1zM550,124h1v1h-1zM550,123h1v1h-1zM551,122h1v1h-1zM552,121h1v1h-1zM552,120h1v1h-1zM553,119h1v1h-1zM553,118h1v1h-1zM554,117h1v1h-1zM555,116h1v1h-1zM555,115h1v1h-1zM556,114h1v1h-1zM556,113h1v1h-1zM557,112h1v1h-1zM558,111h1v1h-1zM558,110h1v1h-1zM559,109h1v1h-1zM559,108h1v1h-1zM560,107h1v1h-1zM561,106h1v1h-1zM561,105h1v1h-1zM562,104h1v1h-1zM562,103h1v1h-1zM563,102h1v1h-1zM564,101h1v1h-1zM564,100h1v1h-1zM565,99h1v1h-1zM566,98h1v1h-1zM566,97h1v1h-1zM567,96h1v1h-1zM567,95h1v1h-1zM568,94h1v1h-1zM569,93h1v1h-1zM569,92h1v1h-1zM570,91h1v1h-1zM570,90h1v1h-1zM571,89h1v1h-1zM572,88h1v1h-1zM572,87h1v1h-1zM573,86h1v1h-1zM573,85h1v1h-1zM574,84h1v1h-1zM575,83h1v1h-1zM575,82h1v1h-1zM576,81h1v1h-1zM576,80h1v1h-1zM577,79h1v1h-1zM578,78h1v1h-1zM578,77h1v1h-1zM579,76h1v1h-1zM579,75h1v1h-1zM580,74h1v1h-1zM581,73h1v1h-1zM581,72h1v1h-1zM582,71h1v1h-1zM582,70h1v1h-1zM583,69h1v1h-1zM584,68h1v1h-1zM584,67h1v1h-1zM585,66h1v1h-1zM585,65h1v1h-1zM586,64h1v1h-1zM587,63h1v1h-1zM587,62h1v1h-1zM588,61h1v1h-1zM589,60h1v1h-1zM589,59h1v1h-1zM590,58h1v1h-1zM590,57h1v1h-1zM591,56h1v1h-1zM592,55h1v1h-1zM592,54h1v1h-1zM593,53h1v1h-1zM593,52h1v1h-1zM594,51h1v1h-1zM595,50h1v1h-1zM595,49h1v1h-1zM596,48h1v1h-1zM596,47h1v1h-1zM597,46h1v1h-1zM598,45h1v1h-1zM598,44h1v1h-1zM599,43h1v1h-1zM599,42h1v1h-1zM267,268h1v1h-1zM268,267h1v1h-1zM269,266h1v1h-1zM273,263h1v1h-1zM274,262h1v1h-1zM275,262h1v1h-1zM279,258h1v1h-1zM280,258h1v1h-1zM281,257h1v1h-1zM285,254h1v1h-1zM286,253h1v1h-1zM287,252h1v1h-1zM291,249h1v1h-1zM292,248h1v1h-1zM293,247h1v1h-1zM297,244h1v1h-1zM298,243h1v1h-1zM299,242h1v1h-1zM303,239h1v1h-1zM304,238h1v1h-1zM305,237h1v1h-1zM309,234h1v1h-1zM310,233h1v1h-1zM311,233h1v1h-1zM315,229h1v1h-1zM316,229h1v1h-1zM317,228h1v1h-1zM321,225h1v1h-1zM322,224h1v1h-1zM323,223h1v1h-1zM327,220h1v1h-1zM328,219h1v1h-1zM329,218h1v1h-1zM333,215h1v1h-1zM334,214h1v1h-1zM335,213h1v1h-1zM339,210h1v1h-1zM340,209h1v1h-1zM341,208h1v1h-1zM345,205h1v1h-1zM346,204h1v1h-1zM347,204h1v1h-1zM351,200h1v1h-1zM352,200h1v1h-1zM353,199h1v1h-1zM357,196h1v1h-1zM358,195h1v1h-1zM359,194h1v1h-1zM363,191h1v1h-1zM364,190h1v1h-1zM365,189h1v1h-1zM369,186h1v1h-1zM370,185h1v1h-1zM371,184h1v1h-1zM375,181h1v1h-1zM376,180h1v1h-1zM377,179h1v1h-1zM381,176h1v1h-1zM382,175h1v1h-1zM383,175h1v1h-1zM387,171h1v1h-1zM388,171h1v1h-1zM389,170h1v1h-1zM393,167h1v1h-1zM394,166h1v1h-1zM395,165h1v1h-1zM399,162h1v1h-1zM400,161h1v1h-1zM401,160h1v1h-1zM405,157h1v1h-1zM406,156h1v1h-1zM407,155h1v1h-1zM411,152h1v1h-1zM412,151h1v1h-1zM413,150h1v1h-1zM417,147h1v1h-1zM418,146h1v1h-1zM419,146h1v1h-1zM423,142h1v1h-1zM424,142h1v1h-1zM425,141h1v1h-1zM429,138h1v1h-1zM430,137h1v1h-1zM431,136h1v1h-1zM435,133h1v1h-1zM436,132h1v1h-1zM437,131h1v1h-1zM441,128h1v1h-1zM442,127h1v1h-1zM443,126h1v1h-1zM447,123h1v1h-1zM448,122h1v1h-1zM449,121h1v1h-1zM453,118h1v1h-1zM454,117h1v1h-1zM455,117h1v1h-1zM459,113h1v1h-1zM460,113h1v1h-1zM461,112h1v1h-1zM465,109h1v1h-1zM466,108h1v1h-1zM467,107h1v1h-1zM471,104h1v1h-1zM472,103h1v1h-1zM473,102h1v1h-1zM477,99h1v1h-1zM478,98h1v1h-1zM479,97h1v1h-1zM483,94h1v1h-1zM484,93h1v1h-1zM485,92h1v1h-1zM489,89h1v1h-1zM490,88h1v1h-1zM491,88h1v1h-1zM495,84h1v1h-1zM496,84h1v1h-1zM497,83h1v1h-1zM501,80h1v1h-1zM502,79h1v1h-1zM503,78h1v1h-1zM507,75h1v1h-1zM508,74h1v1h-1zM509,73h1v1h-1zM513,70h1v1h-1zM514,69h1v1h-1zM515,68h1v1h-1zM519,65h1v1h-1zM520,64h1v1h-1zM521,63h1v1h-1zM525,60h1v1h-1zM526,59h1v1h-1zM527,59h1v1h-1zM531,55h1v1h-1zM532,55h1v1h-1zM533,54h1v1h-1zM537,51h1v1h-1zM538,50h1v1h-1zM539,49h1v1h-1zM543,46h1v1h-1zM544,45h1v1h-1zM545,44h1v1h-1zM549,41h1v1h-1zM550,40h1v1h-1zM551,39h1v1h-1zM555,36h1v1h-1zM556,35h1v1h-1zM557,34h1v1h-1zM561,31h1v1h-1zM562,30h1v1h-1zM563,30h1v1h-1zM567,26h1v1h-1zM568,26h1v1h-1zM569,25h1v1h-1zM573,22h1v1h-1zM574,21h1v1h-1zM575,20h1v1h-1zM579,17h1v1h-1zM580,16h1v1h-1zM581,15h1v1h-1zM585,12h1v1h-1zM586,11h1v1h-1zM587,10h1v1h-1zM591,7h1v1h-1zM592,6h1v1h-1zM593,5h1v1h-1zM439,228h1v1h-1zM440,227h1v1h-1zM440,226h1v1h-1zM443,222h1v1h-1zM443,221h1v1h-1zM444,220h1v1h-1zM447,216h1v1h-1zM447,215h1v1h-1zM448,214h1v1h-1zM450,210h1v1h-1zM451,209h1v1h-1zM452,208h1v1h-1zM454,204h1v1h-1zM455,203h1v1h-1zM456,202h1v1h-1zM458,198h1v1h-1zM459,197h1v1h-1zM459,196h1v1h-1zM462,192h1v1h-1zM463,191h1v1h-1zM463,190h1v1h-1zM466,186h1v1h-1zM466,185h1v1h-1zM467,184h1v1h-1zM470,180h1v1h-1zM470,179h1v1h-1zM471,178h1v1h-1zM473,174h1v1h-1zM474,173h1v1h-1zM475,172h1v1h-1zM477,168h1v1h-1zM478,167h1v1h-1zM478,166h1v1h-1zM481,162h1v1h-1zM482,161h1v1h-1zM482,160h1v1h-1zM485,156h1v1h-1zM485,155h1v1h-1zM486,154h1v1h-1zM489,150h1v1h-1zM489,149h1v1h-1zM490,148h1v1h-1zM492,144h1v1h-1zM493,143h1v1h-1zM494,142h1v1h-1zM496,138h1v1h-1zM497,137h1v1h-1zM497,136h1v1h-1zM500,132h1v1h-1zM501,131h1v1h-1zM501,130h1v1h-1zM504,126h1v1h-1zM504,125h1v1h-1zM505,124h1v1h-1zM508,120h1v1h-1zM508,119h1v1h-1zM509,118h1v1h-1zM511,114h1v1h-1zM512,113h1v1h-1zM513,112h1v1h-1zM515,108h1v1h-1zM516,107h1v1h-1zM517,106h1v1h-1zM519,102h1v1h-1zM520,101h1v1h-1zM520,100h1v1h-1zM523,96h1v1h-1zM524,95h1v1h-1zM524,94h1v1h-1zM527,90h1v1h-1zM527,89h1v1h-1zM528,88h1v1h-1zM531,84h1v1h-1zM531,83h1v1h-1zM532,82h1v1h-1zM534,78h1v1h-1zM535,77h1v1h-1zM536,76h1v1h-1zM538,72h1v1h-1zM539,71h1v1h-1zM539,70h1v1h-1zM542,66h1v1h-1zM543,65h1v1h-1zM543,64h1v1h-1zM546,60h1v1h-1zM546,59h1v1h-1zM547,58h1v1h-1zM550,54h1v1h-1zM550,53h1v1h-1zM551,52h1v1h-1zM553,48h1v1h-1zM554,47h1v1h-1zM555,46h1v1h-1zM557,42h1v1h-1zM558,41h1v1h-1zM558,40h1v1h-1zM561,36h1v1h-1zM562,35h1v1h-1zM562,34h1v1h-1zM565,30h1v1h-1zM565,29h1v1h-1zM566,28h1v1h-1zM569,24h1v1h-1zM569,23h1v1h-1zM570,22h1v1h-1zM572,18h1v1h-1zM573,17h1v1h-1zM574,16h1v1h-1zM576,12h1v1h-1zM577,11h1v1h-1zM578,10h1v1h-1zM580,6h1v1h-1zM581,5h1v1h-1zM581,4h1v1h-1zM279,441h1v1h-1zM280,440h1v1h-1zM281,439h1v1h-1zM285,436h1v1h-1zM286,435h1v1h-1zM287,435h1v1h-1zM291,431h1v1h-1zM292,431h1v1h-1zM293,430h1v1h-1zM297,427h1v1h-1zM298,426h1v1h-1zM299,425h1v1h-1zM303,422h1v1h-1zM304,421h1v1h-1zM305,420h1v1h-1zM309,417h1v1h-1zM310,416h1v1h-1zM311,416h1v1h-1zM315,412h1v1h-1zM316,412h1v1h-1zM317,411h1v1h-1zM321,408h1v1h-1zM322,407h1v1h-1zM323,406h1v1h-1zM327,403h1v1h-1zM328,402h1v1h-1zM329,401h1v1h-1zM333,398h1v1h-1zM334,397h1v1h-1zM335,397h1v1h-1zM339,393h1v1h-1zM340,393h1v1h-1zM341,392h1v1h-1zM345,389h1v1h-1zM346,388h1v1h-1zM347,387h1v1h-1zM351,384h1v1h-1zM352,383h1v1h-1zM353,382h1v1h-1zM357,379h1v1h-1zM358,378h1v1h-1zM359,377h1v1h-1zM363,374h1v1h-1zM364,373h1v1h-1zM365,373h1v1h-1zM369,370h1v1h-1zM370,369h1v1h-1zM371,368h1v1h-1zM375,365h1v1h-1zM376,364h1v1h-1zM377,363h1v1h-1zM381,360h1v1h-1zM382,359h1v1h-1zM383,358h1v1h-1zM387,355h1v1h-1zM388,354h1v1h-1zM389,354h1v1h-1zM393,350h1v1h-1zM394,350h1v1h-1zM395,349h1v1h-1zM399,346h1v1h-1zM400,345h1v1h-1zM401,344h1v1h-1zM405,341h1v1h-1zM406,340h1v1h-1zM407,339h1v1h-1zM411,336h1v1h-1zM412,335h1v1h-1zM413,335h1v1h-1zM417,331h1v1h-1zM418,331h1v1h-1zM419,330h1v1h-1zM423,327h1v1h-1zM424,326h1v1h-1zM425,325h1v1h-1zM429,322h1v1h-1zM430,321h1v1h-1zM431,320h1v1h-1zM435,317h1v1h-1zM436,316h1v1h-1zM437,315h1v1h-1zM441,312h1v1h-1zM442,312h1v1h-1zM443,311h1v1h-1zM447,308h1v1h-1zM448,307h1v1h-1zM449,306h1v1h-1zM453,303h1v1h-1zM454,302h1v1h-1zM455,301h1v1h-1zM459,298h1v1h-1zM460,297h1v1h-1zM461,296h1v1h-1zM465,293h1v1h-1zM466,292h1v1h-1zM467,292h1v1h-1zM471,288h1v1h-1zM472,288h1v1h-1zM473,287h1v1h-1zM477,284h1v1h-1zM478,283h1v1h-1zM479,282h1v1h-1zM483,279h1v1h-1zM484,278h1v1h-1zM485,277h1v1h-1zM489,274h1v1h-1zM490,273h1v1h-1zM491,273h1v1h-1zM495,269h1v1h-1zM496,269h1v1h-1zM497,268h1v1h-1zM501,265h1v1h-1zM502,264h1v1h-1zM503,263h1v1h-1zM507,260h1v1h-1zM508,259h1v1h-1zM509,258h1v1h-1zM513,255h1v1h-1zM514,254h1v1h-1zM515,254h1v1h-1zM519,250h1v1h-1zM520,250h1v1h-1zM521,249h1v1h-1zM525,246h1v1h-1zM526,245h1v1h-1zM527,244h1v1h-1zM531,241h1v1h-1zM532,240h1v1h-1zM533,239h1v1h-1zM537,236h1v1h-1zM538,235h1v1h-1zM539,234h1v1h-1zM543,231h1v1h-1zM544,230h1v1h-1zM545,230h1v1h-1zM549,227h1v1h-1zM550,226h1v1h-1zM551,225h1v1h-1zM555,222h1v1h-1zM556,221h1v1h-1zM557,220h1v1h-1zM561,217h1v1h-1zM562,216h1v1h-1zM563,215h1v1h-1zM567,212h1v1h-1zM568,211h1v1h-1zM569,211h1v1h-1zM573,207h1v1h-1zM574,207h1v1h-1zM575,206h1v1h-1zM579,203h1v1h-1zM580,202h1v1h-1zM581,201h1v1h-1zM585,198h1v1h-1zM586,197h1v1h-1zM587,196h1v1h-1zM591,193h1v1h-1zM592,192h1v1h-1zM593,192h1v1h-1zM597,188h1v1h-1zM598,188h1v1h-1zM599,187h1v1h-1zM457,461h1v1h-1zM458,461h1v1h-1zM462,459h1v1h-1zM463,458h1v1h-1zM464,458h1v1h-1zM468,455h1v1h-1zM469,455h1v1h-1zM470,454h1v1h-1zM474,452h1v1h-1zM475,451h1v1h-1zM476,451h1v1h-1zM480,449h1v1h-1zM481,448h1v1h-1zM482,448h1v1h-1zM480,287h1v1h-1zM481,286h1v1h-1zM481,285h1v1h-1zM483,281h1v1h-1zM484,280h1v1h-1zM485,279h1v1h-1zM487,275h1v1h-1zM488,274h1v1h-1zM488,273h1v1h-1zM490,269h1v1h-1zM491,268h1v1h-1zM492,267h1v1h-1zM494,263h1v1h-1zM494,262h1v1h-1zM495,261h1v1h-1zM497,257h1v1h-1zM498,256h1v1h-1zM499,255h1v1h-1zM501,251h1v1h-1zM501,250h1v1h-1zM502,249h1v1h-1zM504,245h1v1h-1zM505,244h1v1h-1zM506,243h1v1h-1zM508,239h1v1h-1zM508,238h1v1h-1zM509,237h1v1h-1zM511,233h1v1h-1zM512,232h1v1h-1zM512,231h1v1h-1zM515,227h1v1h-1zM515,226h1v1h-1zM516,225h1v1h-1zM518,221h1v1h-1zM519,220h1v1h-1zM519,219h1v1h-1zM522,215h1v1h-1zM522,214h1v1h-1zM523,213h1v1h-1zM525,209h1v1h-1zM526,208h1v1h-1zM526,207h1v1h-1zM529,203h1v1h-1zM529,202h1v1h-1zM530,201h1v1h-1zM532,197h1v1h-1zM533,196h1v1h-1zM533,195h1v1h-1zM536,191h1v1h-1zM536,190h1v1h-1zM537,189h1v1h-1zM539,185h1v1h-1zM540,184h1v1h-1zM540,183h1v1h-1zM543,179h1v1h-1zM543,178h1v1h-1zM544,177h1v1h-1zM546,173h1v1h-1zM547,172h1v1h-1zM547,171h1v1h-1zM550,167h1v1h-1zM550,166h1v1h-1zM551,165h1v1h-1zM553,161h1v1h-1zM554,160h1v1h-1zM554,159h1v1h-1zM557,155h1v1h-1zM557,154h1v1h-1zM558,153h1v1h-1zM560,149h1v1h-1zM561,148h1v1h-1zM561,147h1v1h-1zM563,143h1v1h-1zM564,142h1v1h-1zM565,141h1v1h-1zM567,137h1v1h-1zM568,136h1v1h-1zM568,135h1v1h-1zM570,131h1v1h-1zM571,130h1v1h-1zM572,129h1v1h-1zM574,125h1v1h-1zM574,124h1v1h-1zM575,123h1v1h-1zM577,119h1v1h-1zM578,118h1v1h-1zM579,117h1v1h-1zM581,113h1v1h-1zM581,112h1v1h-1zM582,111h1v1h-1zM584,107h1v1h-1zM585,106h1v1h-1zM586,105h1v1h-1zM588,101h1v1h-1zM588,100h1v1h-1zM589,99h1v1h-1zM591,95h1v1h-1zM592,94h1v1h-1zM592,93h1v1h-1zM595,89h1v1h-1zM595,88h1v1h-1zM596,87h1v1h-1zM598,83h1v1h-1zM599,82h1v1h-1zM599,81h1v1h-1zM475,40h1v1h-1zM475,41h1v1h-1zM475,42h1v1h-1zM475,46h1v1h-1zM475,47h1v1h-1zM475,48h1v1h-1zM475,52h1v1h-1zM475,53h1v1h-1zM475,54h1v1h-1zM475,58h1v1h-1zM475,59h1v1h-1zM475,60h1v1h-1zM475,64h1v1h-1zM475,65h1v1h-1zM475,66h1v1h-1zM474,70h1v1h-1zM474,71h1v1h-1zM474,72h1v1h-1zM474,76h1v1h-1zM474,77h1v1h-1zM474,78h1v1h-1zM474,82h1v1h-1zM474,83h1v1h-1zM474,84h1v1h-1zM474,88h1v1h-1zM474,89h1v1h-1zM474,90h1v1h-1zM474,94h1v1h-1zM474,95h1v1h-1zM474,96h1v1h-1zM474,100h1v1h-1zM474,101h1v1h-1zM474,102h1v1h-1zM474,106h1v1h-1zM474,107h1v1h-1zM474,108h1v1h-1zM474,112h1v1h-1zM474,113h1v1h-1zM474,114h1v1h-1zM474,118h1v1h-1zM474,119h1v1h-1zM474,120h1v1h-1zM474,124h1v1h-1zM474,125h1v1h-1zM473,126h1v1h-1zM473,130h1v1h-1zM473,131h1v1h-1zM473,132h1v1h-1zM473,136h1v1h-1zM473,137h1v1h-1zM473,138h1v1h-1zM473,142h1v1h-1zM473,143h1v1h-1zM473,144h1v1h-1zM473,148h1v1h-1zM473,149h1v1h-1zM473,150h1v1h-1zM473,154h1v1h-1zM473,155h1v1h-1zM473,156h1v1h-1zM473,160h1v1h-1zM473,161h1v1h-1zM473,162h1v1h-1zM473,166h1v1h-1zM473,167h1v1h-1zM473,168h1v1h-1zM473,172h1v1h-1zM473,173h1v1h-1zM473,174h1v1h-1zM473,178h1v1h-1zM473,179h1v1h-1zM473,180h1v1h-1zM473,184h1v1h-1zM473,185h1v1h-1zM473,186h1v1h-1zM472,190h1v1h-1zM472,191h1v1h-1zM472,192h1v1h-1zM472,196h1v1h-1zM472,197h1v1h-1zM472,198h1v1h-1zM472,202h1v1h-1zM472,203h1v1h-1zM472,204h1v1h-1zM472,208h1v1h-1zM472,209h1v1h-1zM472,210h1v1h-1zM472,214h1v1h-1zM472,215h1v1h-1zM472,216h1v1h-1zM472,220h1v1h-1zM472,221h1v1h-1zM472,222h1v1h-1zM472,226h1v1h-1zM472,227h1v1h-1zM472,228h1v1h-1zM472,232h1v1h-1zM472,233h1v1h-1zM472,234h1v1h-1zM472,238h1v1h-1zM472,239h1v1h-1zM472,240h1v1h-1zM472,244h1v1h-1zM472,245h1v1h-1zM472,246h1v1h-1zM472,250h1v1h-1zM472,251h1v1h-1zM472,252h1v1h-1z" fill="#0000ff"/>
<rect x="3" y="322" width="1" height="37" fill="#00ff00"/>
<rect x="2" y="324" width="3" height="29" fill="#00ff00"/>
<rect x="7" y="322" width="1" height="79" fill="#ff0000"/>
<rect x="6" y="323" width="3" height="74" fill="#ff0000"/>
<rect x="11" y="388" width="1" height="26" fill="#ff0000"/>
<rect x="10" y="397" width="3" height="3" fill="#ff0000"/>
<rect x="15" y="389" width="1" height="24" fill="#ff0000"/>
<rect x="14" y="400" width="3" height="9" fill="#ff0000"/>
<rect x="19" y="380" width="1" height="57" fill="#ff0000"/>
<rect x="18" y="409" width="3" height="9" fill="#ff0000"/>
<rect x="23" y="383" width="1" height="39" fill="#00ff00"/>
<rect x="22" y="387" width="3" height="30" fill="#00ff00"/>
<rect x="27" y="352" width="1" height="42" fill="#00ff00"/>
<rect x="26" y="363" width="3" height="24" fill="#00ff00"/>
<rect x="31" y="344" width="1" height="31" fill="#00ff00"/>
<rect x="30" y="359" width="3" height="4" fill="#00ff00"/>
<rect x="35" y="353" width="1" height="9" fill="#000000"/>
<rect x="34" y="358" width="3" height="1" fill="#000000"/>
<rect x="39" y="353" width="1" height="27" fill="#ff0000"/>
<rect x="38" y="356" width="3" height="15" fill="#ff0000"/>
<rect x="43" y="359" width="1" height="19" fill="#00ff00"/>
<rect x="42" y="360" width="3" height="12" fill="#00ff00"/>
<rect x="47" y="341" width="1" height="24" fill="#00ff00"/>
<rect x="46" y="353" width="3" height="10" fill="#00ff00"/>
<rect x="51" y="349" width="1" height="20" fill="#ff0000"/>
<rect x="50" y="352" width="3" height="12" fill="#ff0000"/>
<rect x="55" y="346" width="1" height="28" fill="#00ff00"/>
<rect x="54" y="346" width="3" height="19" fill="#00ff00"/>
<rect x="59" y="163" width="1" height="183" fill="#00ff00"/>
<rect x="58" y="168" width="3" height="178" fill="#00ff00"/>
<rect x="63" y="173" width="1" height="38" fill="#ff0000"/>
<rect x="62" y="173" width="3" height="31" fill="#ff0000"/>
<rect x="67" y="173" width="1" height="42" fill="#ff0000"/>
<rect x="66" y="205" width="3" height="8" fill="#ff0000"/>
<rect x="71" y="171" width="1" height="42" fill="#00ff00"/>
<rect x="70" y="182" width="3" height="30" fill="#00ff00"/>
<rect x="75" y="169" width="1" height="42" fill="#ff0000"/>
<rect x="74" y="181" width="3" height="27" fill="#ff0000"/>
<rect x="79" y="198" width="1" height="67" fill="#ff0000"/>
<rect x="78" y="206" width="3" height="54" fill="#ff0000"/>
<rect x="83" y="254" width="1" height="24" fill="#ff0000"/>
<rect x="82" y="258" width="3" height="2" fill="#ff0000"/>
<rect x="87" y="246" width="1" height="24" fill="#00ff00"/>
<rect x="86" y="251" width="3" height="16" fill="#00ff00"/>
<rect x="91" y="244" width="1" height="19" fill="#ff0000"/>
<rect x="90" y="250" width="3" height="9" fill="#ff0000"/>
<rect x="95" y="241" width="1" height="42" fill="#ff0000"/>
<rect x="94" y="257" width="3" height="19" fill="#ff0000"/>
<rect x="99" y="265" width="1" height="46" fill="#ff0000"/>
<rect x="98" y="276" width="3" height="11" fill="#ff0000"/>
<rect x="103" y="277" width="1" height="56" fill="#ff0000"/>
<rect x="102" y="287" width="3" height="16" fill="#ff0000"/>
<rect x="107" y="273" width="1" height="42" fill="#ff0000"/>
<rect x="106" y="300" width="3" height="11" fill="#ff0000"/>
<rect x="111" y="304" width="1" height="40" fill="#00ff00"/>
<rect x="110" y="321" width="3" height="21" fill="#00ff00"/>
<rect x="115" y="265" width="1" height="63" fill="#00ff00"/>
<rect x="114" y="281" width="3" height="42" fill="#00ff00"/>
<rect x="119" y="266" width="1" height="23" fill="#00ff00"/>
<rect x="118" y="278" width="3" height="5" fill="#00ff00"/>
<rect x="123" y="255" width="1" height="47" fill="#00ff00"/>
<rect x="122" y="270" width="3" height="8" fill="#00ff00"/>
<rect x="127" y="244" width="1" height="33" fill="#00ff00"/>
<rect x="126" y="250" width="3" height="23" fill="#00ff00"/>
<rect x="131" y="250" width="1" height="25" fill="#ff0000"/>
<rect x="130" y="250" width="3" height="25" fill="#ff0000"/>
<rect x="135" y="270" width="1" height="44" fill="#ff0000"/>
<rect x="134" y="272" width="3" height="33" fill="#ff0000"/>
<rect x="139" y="288" width="1" height="23" fill="#00ff00"/>
<rect x="138" y="289" width="3" height="15" fill="#00ff00"/>
<rect x="143" y="285" width="1" height="47" fill="#ff0000"/>
<rect x="142" y="291" width="3" height="41" fill="#ff0000"/>
<rect x="147" y="308" width="1" height="31" fill="#00ff00"/>
<rect x="146" y="323" width="3" height="10" fill="#00ff00"/>
<rect x="151" y="292" width="1" height="57" fill="#00ff00"/>
<rect x="150" y="307" width="3" height="16" fill="#00ff00"/>
<rect x="155" y="298" width="1" height="26" fill="#ff0000"/>
<rect x="154" y="308" width="3" height="12" fill="#ff0000"/>
<rect x="159" y="315" width="1" height="24" fill="#ff0000"/>
<rect x="158" y="317" width="3" height="8" fill="#ff0000"/>
<rect x="163" y="314" width="1" height="32" fill="#ff0000"/>
<rect x="162" y="325" width="3" height="9" fill="#ff0000"/>
<rect x="167" y="327" width="1" height="49" fill="#ff0000"/>
<rect x="166" y="334" width="3" height="40" fill="#ff0000"/>
<rect x="171" y="338" width="1" height="36" fill="#00ff00"/>
<rect x="170" y="340" width="3" height="34" fill="#00ff00"/>
<rect x="175" y="321" width="1" height="39" fill="#00ff00"/>
<rect x="174" y="333" width="3" height="7" fill="#00ff00"/>
<rect x="179" y="330" width="1" height="26" fill="#ff0000"/>
<rect x="178" y="332" width="3" height="13" fill="#ff0000"/>
<rect x="183" y="333" width="1" height="20" fill="#00ff00"/>
<rect x="182" y="339" width="3" height="7" fill="#00ff00"/>
<rect x="187" y="334" width="1" height="34" fill="#ff0000"/>
<rect x="186" y="338" width="3" height="7" fill="#ff0000"/>
<rect x="191" y="305" width="1" height="44" fill="#00ff00"/>
<rect x="190" y="305" width="3" height="39" fill="#00ff00"/>
<rect x="195" y="305" width="1" height="44" fill="#ff0000"/>
<rect x="194" y="306" width="3" height="30" fill="#ff0000"/>
<rect x="199" y="329" width="1" height="46" fill="#ff0000"/>
<rect x="198" y="336" width="3" height="33" fill="#ff0000"/>
<rect x="203" y="350" width="1" height="22" fill="#00ff00"/>
<rect x="202" y="351" width="3" height="19" fill="#00ff00"/>
<rect x="207" y="341" width="1" height="16" fill="#00ff00"/>
<rect x="206" y="341" width="3" height="2" fill="#00ff00"/>
<rect x="211" y="335" width="1" height="48" fill="#ff0000"/>
<rect x="210" y="342" width="3" height="23" fill="#ff0000"/>
<rect x="215" y="342" width="1" height="50" fill="#ff0000"/>
<rect x="214" y="365" width="3" height="22" fill="#ff0000"/>
<rect x="219" y="383" width="1" height="39" fill="#ff0000"/>
<rect x="218" y="384" width="3" height="24" fill="#ff0000"/>
<rect x="223" y="389" width="1" height="27" fill="#00ff00"/>
<rect x="222" y="402" width="3" height="5" fill="#00ff00"/>
<rect x="227" y="392" width="1" height="14" fill="#00ff00"/>
<rect x="226" y="400" width="3" height="5" fill="#00ff00"/>
<rect x="231" y="393" width="1" height="43" fill="#ff0000"/>
<rect x="230" y="403" width="3" height="24" fill="#ff0000"/>
<rect x="235" y="403" width="1" height="38" fill="#00ff00"/>
<rect x="234" y="409" width="3" height="17" fill="#00ff00"/>
<rect x="239" y="380" width="1" height="45" fill="#00ff00"/>
<rect x="238" y="390" width="3" height="21" fill="#00ff00"/>
<rect x="243" y="377" width="1" height="30" fill="#00ff00"/>
<rect x="242" y="382" width="3" height="8" fill="#00ff00"/>
<rect x="247" y="359" width="1" height="32" fill="#00ff00"/>
<rect x="246" y="378" width="3" height="4" fill="#00ff00"/>
<rect x="251" y="375" width="1" height="24" fill="#ff0000"/>
<rect x="250" y="377" width="3" height="15" fill="#ff0000"/>
<rect x="255" y="386" width="1" height="46" fill="#ff0000"/>
<rect x="254" y="400" width="3" height="23" fill="#ff0000"/>
<rect x="259" y="317" width="1" height="105" fill="#00ff00"/>
<rect x="258" y="324" width="3" height="97" fill="#00ff00"/>
<rect x="263" y="277" width="1" height="48" fill="#00ff00"/>
<rect x="262" y="291" width="3" height="33" fill="#00ff00"/>
<rect x="267" y="268" width="1" height="56" fill="#ff0000"/>
<rect x="266" y="292" width="3" height="25" fill="#ff0000"/>
<rect x="271" y="304" width="1" height="31" fill="#00ff00"/>
<rect x="270" y="314" width="3" height="2" fill="#00ff00"/>
<rect x="275" y="303" width="1" height="24" fill="#00ff00"/>
<rect x="274" y="311" width="3" height="3" fill="#00ff00"/>
<rect x="279" y="294" width="1" height="31" fill="#ff0000"/>
<rect x="278" y="308" width="3" height="8" fill="#ff0000"/>
<rect x="283" y="297" width="1" height="54" fill="#ff0000"/>
<rect x="282" y="316" width="3" height="27" fill="#ff0000"/>
<rect x="287" y="339" width="1" height="43" fill="#ff0000"/>
<rect x="286" y="341" width="3" height="32" fill="#ff0000"/>
<rect x="291" y="354" width="1" height="25" fill="#00ff00"/>
<rect x="290" y="369" width="3" height="3" fill="#00ff00"/>
<rect x="295" y="340" width="1" height="32" fill="#00ff00"/>
<rect x="294" y="340" width="3" height="29" fill="#00ff00"/>
<rect x="299" y="315" width="1" height="32" fill="#00ff00"/>
<rect x="298" y="324" width="3" height="18" fill="#00ff00"/>
<rect x="303" y="315" width="1" height="30" fill="#ff0000"/>
<rect x="302" y="323" width="3" height="5" fill="#ff0000"/>
<rect x="307" y="303" width="1" height="30" fill="#00ff00"/>
<rect x="306" y="320" width="3" height="7" fill="#00ff00"/>
<rect x="311" y="304" width="1" height="33" fill="#ff0000"/>
<rect x="310" y="321" width="3" height="4" fill="#ff0000"/>
<rect x="315" y="310" width="1" height="25" fill="#00ff00"/>
<rect x="314" y="315" width="3" height="11" fill="#00ff00"/>
<rect x="319" y="291" width="1" height="48" fill="#00ff00"/>
<rect x="318" y="315" width="3" height="2" fill="#00ff00"/>
<rect x="323" y="297" width="1" height="25" fill="#00ff00"/>
<rect x="322" y="315" width="3" height="2" fill="#00ff00"/>
<rect x="327" y="281" width="1" height="40" fill="#00ff00"/>
<rect x="326" y="283" width="3" height="32" fill="#00ff00"/>
<rect x="331" y="263" width="1" height="27" fill="#00ff00"/>
<rect x="330" y="268" width="3" height="15" fill="#00ff00"/>
<rect x="335" y="254" width="1" height="23" fill="#ff0000"/>
<rect x="334" y="267" width="3" height="3" fill="#ff0000"/>
<rect x="339" y="256" width="1" height="29" fill="#ff0000"/>
<rect x="338" y="268" width="3" height="8" fill="#ff0000"/>
<rect x="343" y="241" width="1" height="37" fill="#00ff00"/>
<rect x="342" y="270" width="3" height="7" fill="#00ff00"/>
<rect x="347" y="267" width="1" height="12" fill="#ff0000"/>
<rect x="346" y="272" width="3" height="2" fill="#ff0000"/>
<rect x="351" y="253" width="1" height="25" fill="#00ff00"/>
<rect x="350" y="255" width="3" height="13" fill="#00ff00"/>
<rect x="355" y="254" width="1" height="35" fill="#ff0000"/>
<rect x="354" y="254" width="3" height="34" fill="#ff0000"/>
<rect x="359" y="277" width="1" height="45" fill="#ff0000"/>
<rect x="358" y="288" width="3" height="17" fill="#ff0000"/>
<rect x="363" y="284" width="1" height="23" fill="#00ff00"/>
<rect x="362" y="297" width="3" height="9" fill="#00ff00"/>
<rect x="367" y="256" width="1" height="48" fill="#00ff00"/>
<rect x="366" y="264" width="3" height="33" fill="#00ff00"/>
<rect x="371" y="262" width="1" height="18" fill="#ff0000"/>
<rect x="370" y="263" width="3" height="13" fill="#ff0000"/>
<rect x="375" y="254" width="1" height="31" fill="#00ff00"/>
<rect x="374" y="266" width="3" height="11" fill="#00ff00"/>
<rect x="379" y="265" width="1" height="30" fill="#ff0000"/>
<rect x="378" y="265" width="3" height="5" fill="#ff0000"/>
<rect x="383" y="251" width="1" height="26" fill="#00ff00"/>
<rect x="382" y="257" width="3" height="12" fill="#00ff00"/>
<rect x="387" y="214" width="1" height="46" fill="#00ff00"/>
<rect x="386" y="217" width="3" height="42" fill="#00ff00"/>
<rect x="391" y="217" width="1" height="57" fill="#ff0000"/>
<rect x="390" y="218" width="3" height="53" fill="#ff0000"/>
<rect x="395" y="264" width="1" height="24" fill="#ff0000"/>
<rect x="394" y="272" width="3" height="8" fill="#ff0000"/>
<rect x="399" y="245" width="1" height="45" fill="#00ff00"/>
<rect x="398" y="275" width="3" height="7" fill="#00ff00"/>
<rect x="403" y="264" width="1" height="29" fill="#00ff00"/>
<rect x="402" y="270" width="3" height="7" fill="#00ff00"/>
<rect x="407" y="250" width="1" height="25" fill="#00ff00"/>
<rect x="406" y="253" width="3" height="17" fill="#00ff00"/>
<rect x="411" y="235" width="1" height="24" fill="#00ff00"/>
<rect x="410" y="246" width="3" height="5" fill="#00ff00"/>
<rect x="415" y="236" width="1" height="47" fill="#ff0000"/>
<rect x="414" y="245" width="3" height="37" fill="#ff0000"/>
<rect x="419" y="250" width="1" height="33" fill="#00ff00"/>
<rect x="418" y="257" width="3" height="23" fill="#00ff00"/>
<rect x="423" y="226" width="1" height="52" fill="#00ff00"/>
<rect x="422" y="251" width="3" height="8" fill="#00ff00"/>
<rect x="427" y="250" width="1" height="66" fill="#ff0000"/>
<rect x="426" y="253" width="3" height="59" fill="#ff0000"/>
<rect x="431" y="265" width="1" height="55" fill="#00ff00"/>
<rect x="430" y="269" width="3" height="44" fill="#00ff00"/>
<rect x="435" y="259" width="1" height="29" fill="#ff0000"/>
<rect x="434" y="270" width="3" height="16" fill="#ff0000"/>
<rect x="439" y="228" width="1" height="59" fill="#00ff00"/>
<rect x="438" y="240" width="3" height="47" fill="#00ff00"/>
<rect x="443" y="231" width="1" height="23" fill="#ff0000"/>
<rect x="442" y="239" width="3" height="13" fill="#ff0000"/>
<rect x="447" y="236" width="1" height="33" fill="#00ff00"/>
<rect x="446" y="247" width="3" height="2" fill="#00ff00"/>
<rect x="451" y="211" width="1" height="39" fill="#00ff00"/>
<rect x="450" y="229" width="3" height="18" fill="#00ff00"/>
<rect x="455" y="216" width="1" height="20" fill="#ff0000"/>
<rect x="454" y="230" width="3" height="2" fill="#ff0000"/>
<rect x="459" y="212" width="1" height="33" fill="#ff0000"/>
<rect x="458" y="230" width="3" height="15" fill="#ff0000"/>
<rect x="463" y="218" width="1" height="38" fill="#00ff00"/>
<rect x="462" y="231" width="3" height="15" fill="#00ff00"/>
<rect x="467" y="228" width="1" height="18" fill="#00ff00"/>
<rect x="466" y="229" width="3" height="4" fill="#00ff00"/>
<rect x="471" y="252" width="1" height="26" fill="#00ff00"/>
<rect x="470" y="266" width="3" height="12" fill="#00ff00"/>
<rect x="475" y="225" width="1" height="43" fill="#00ff00"/>
<rect x="474" y="230" width="3" height="36" fill="#00ff00"/>
<rect x="479" y="226" width="1" height="23" fill="#ff0000"/>
<rect x="478" y="229" width="3" height="2" fill="#ff0000"/>
<rect x="483" y="217" width="1" height="19" fill="#00ff00"/>
<rect x="482" y="222" width="3" height="8" fill="#00ff00"/>
<rect x="487" y="212" width="1" height="23" fill="#00ff00"/>
<rect x="486" y="218" width="3" height="4" fill="#00ff00"/>
<rect x="491" y="188" width="1" height="34" fill="#00ff00"/>
<rect x="490" y="208" width="3" height="12" fill="#00ff00"/>
<rect x="495" y="160" width="1" height="61" fill="#00ff00"/>
<rect x="494" y="164" width="3" height="46" fill="#00ff00"/>
<rect x="499" y="152" width="1" height="26" fill="#00ff00"/>
<rect x="498" y="159" width="3" height="5" fill="#00ff00"/>
<rect x="503" y="142" width="1" height="22" fill="#00ff00"/>
<rect x="502" y="153" width="3" height="8" fill="#00ff00"/>
<rect x="507" y="152" width="1" height="26" fill="#ff0000"/>
<rect x="506" y="152" width="3" height="16" fill="#ff0000"/>
<rect x="511" y="151" width="1" height="31" fill="#ff0000"/>
<rect x="510" y="165" width="3" height="7" fill="#ff0000"/>
<rect x="515" y="160" width="1" height="38" fill="#00ff00"/>
<rect x="514" y="165" width="3" height="8" fill="#00ff00"/>
<rect x="519" y="146" width="1" height="52" fill="#00ff00"/>
<rect x="518" y="161" width="3" height="7" fill="#00ff00"/>
<rect x="523" y="155" width="1" height="36" fill="#ff0000"/>
<rect x="522" y="160" width="3" height="9" fill="#ff0000"/>
<rect x="527" y="153" width="1" height="29" fill="#00ff00"/>
<rect x="526" y="158" width="3" height="12" fill="#00ff00"/>
<rect x="531" y="151" width="1" height="13" fill="#00ff00"/>
<rect x="530" y="157" width="3" height="3" fill="#00ff00"/>
<rect x="535" y="151" width="1" height="23" fill="#00ff00"/>
<rect x="534" y="154" width="3" height="4" fill="#00ff00"/>
<rect x="539" y="131" width="1" height="25" fill="#00ff00"/>
<rect x="538" y="136" width="3" height="20" fill="#00ff00"/>
<rect x="543" y="119" width="1" height="37" fill="#00ff00"/>
<rect x="542" y="135" width="3" height="5" fill="#00ff00"/>
<rect x="547" y="125" width="1" height="41" fill="#ff0000"/>
<rect x="546" y="136" width="3" height="15" fill="#ff0000"/>
<rect x="551" y="88" width="1" height="73" fill="#00ff00"/>
<rect x="550" y="94" width="3" height="56" fill="#00ff00"/>
<rect x="555" y="54" width="1" height="44" fill="#00ff00"/>
<rect x="554" y="66" width="3" height="28" fill="#00ff00"/>
<rect x="559" y="31" width="1" height="42" fill="#00ff00"/>
<rect x="558" y="40" width="3" height="28" fill="#00ff00"/>
<rect x="563" y="40" width="1" height="17" fill="#ff0000"/>
<rect x="562" y="41" width="3" height="5" fill="#ff0000"/>
<rect x="567" y="38" width="1" height="31" fill="#ff0000"/>
<rect x="566" y="44" width="3" height="17" fill="#ff0000"/>
<rect x="571" y="48" width="1" height="31" fill="#ff0000"/>
<rect x="570" y="59" width="3" height="7" fill="#ff0000"/>
<rect x="575" y="59" width="1" height="9" fill="#00ff00"/>
<rect x="574" y="63" width="3" height="2" fill="#00ff00"/>
<path d="M513,199h1v1h-1zM513,198h1v1h-1zM515,193h1v1h-1zM516,192h1v1h-1zM517,187h1v1h-1zM518,186h1v1h-1zM520,181h1v1h-1zM520,180h1v1h-1zM522,175h1v1h-1zM522,174h1v1h-1zM524,169h1v1h-1zM524,168h1v1h-1zM526,163h1v1h-1zM526,162h1v1h-1zM528,157h1v1h-1zM529,156h1v1h-1zM530,151h1v1h-1zM531,150h1v1h-1zM533,145h1v1h-1zM533,144h1v1h-1zM535,139h1v1h-1zM535,138h1v1h-1zM537,133h1v1h-1zM537,132h1v1h-1zM539,127h1v1h-1zM539,126h1v1h-1zM541,121h1v1h-1zM542,120h1v1h-1z" fill="#000"/>
<rect x="429" y="318" width="1" height="5" fill="#0000ff"/><rect x="433" y="316" width="1" height="7" fill="#0000ff"/><rect x="430" y="318" width="3" height="1" fill="#0000ff"/>
<text x="540.6" y="121.5" style="font-size:6px;stroke-width:0">5</text>
<text x="515" y="196" style="font-size:6px;stroke-width:0">2</text>
<text x="512.4" y="200.5" style="font-size:5px;stroke-width:0">1 1</text>
</g>
<!-- frame -->
<g shape-rendering="crispEdges">
<rect x="2" y="2" width="599" height="1" fill="#000"/>
<rect x="2" y="2" width="1" height="461" fill="#000"/>
<rect x="2" y="462" width="599" height="1" fill="#000"/>
<rect x="600" y="2" width="1" height="461" fill="#000"/>
<rect x="600" y="63" width="1" height="1" fill="#fff"/>
<rect x="601" y="20" width="2" height="1" fill="#000"/><text x="605.6" y="23" textLength="28.8" lengthAdjust="spacingAndGlyphs">0.9655</text><rect x="601" y="54" width="2" height="1" fill="#000"/><text x="605.6" y="57" textLength="28.8" lengthAdjust="spacingAndGlyphs">0.9625</text><rect x="601" y="87" width="2" height="1" fill="#000"/><text x="605.6" y="90" textLength="28.8" lengthAdjust="spacingAndGlyphs">0.9595</text><rect x="601" y="121" width="2" height="1" fill="#000"/><text x="605.6" y="124" textLength="28.8" lengthAdjust="spacingAndGlyphs">0.9565</text><rect x="601" y="154" width="2" height="1" fill="#000"/><text x="605.6" y="157" textLength="28.8" lengthAdjust="spacingAndGlyphs">0.9535</text><rect x="601" y="188" width="2" height="1" fill="#000"/><text x="605.6" y="191" textLength="28.8" lengthAdjust="spacingAndGlyphs">0.9505</text><rect x="601" y="221" width="2" height="1" fill="#000"/><text x="605.6" y="224" textLength="28.8" lengthAdjust="spacingAndGlyphs">0.9475</text><rect x="601" y="255" width="2" height="1" fill="#000"/><text x="605.6" y="258" textLength="28.8" lengthAdjust="spacingAndGlyphs">0.9445</text><rect x="601" y="288" width="2" height="1" fill="#000"/><text x="605.6" y="291" textLength="28.8" lengthAdjust="spacingAndGlyphs">0.9415</text><rect x="601" y="322" width="2" height="1" fill="#000"/><text x="605.6" y="325" textLength="28.8" lengthAdjust="spacingAndGlyphs">0.9385</text><rect x="601" y="355" width="2" height="1" fill="#000"/><text x="605.6" y="358" textLength="28.8" lengthAdjust="spacingAndGlyphs">0.9355</text><rect x="601" y="389" width="2" height="1" fill="#000"/><text x="605.6" y="392" textLength="28.8" lengthAdjust="spacingAndGlyphs">0.9325</text><rect x="601" y="422" width="2" height="1" fill="#000"/><text x="605.6" y="425" textLength="28.8" lengthAdjust="spacingAndGlyphs">0.9295</text><rect x="601" y="456" width="2" height="1" fill="#000"/><text x="605.6" y="459" textLength="28.8" lengthAdjust="spacingAndGlyphs">0.9265</text><rect x="602" y="3" width="36" height="10" fill="#0000ff"/><text x="605.6" y="11" class="w" textLength="28.8" lengthAdjust="spacingAndGlyphs">0.9666</text><rect x="602" y="57" width="36" height="11" fill="#000000"/><text x="605.6" y="66" class="w" textLength="28.8" lengthAdjust="spacingAndGlyphs">0.9617</text><rect x="602" y="104" width="36" height="11" fill="#ff0000"/><text x="605.6" y="113" class="w" textLength="28.8" lengthAdjust="spacingAndGlyphs">0.9575</text><rect x="602" y="151" width="36" height="11" fill="#0000ff"/><text x="605.6" y="160" class="w" textLength="28.8" lengthAdjust="spacingAndGlyphs">0.9533</text><rect x="602" y="435" width="36" height="11" fill="#ff0000"/><text x="605.6" y="444" class="w" textLength="28.8" lengthAdjust="spacingAndGlyphs">0.9279</text>
<rect x="3" y="463" width="1" height="3" fill="#000"/><text x="2" y="475" textLength="53" lengthAdjust="spacingAndGlyphs">16 Sep 2013</text><rect x="67" y="463" width="1" height="3" fill="#000"/><text x="66" y="475" textLength="56" lengthAdjust="spacingAndGlyphs">19 Sep 04:00</text><rect x="131" y="463" width="1" height="3" fill="#000"/><text x="130" y="475" textLength="56.5" lengthAdjust="spacingAndGlyphs">23 Sep 20:00</text><rect x="195" y="463" width="1" height="3" fill="#000"/><text x="194" y="475" textLength="56.5" lengthAdjust="spacingAndGlyphs">26 Sep 12:00</text><rect x="259" y="463" width="1" height="3" fill="#000"/><text x="258" y="475" textLength="51" lengthAdjust="spacingAndGlyphs">1 Oct 04:00</text><rect x="323" y="463" width="1" height="3" fill="#000"/><text x="322" y="475" textLength="51" lengthAdjust="spacingAndGlyphs">3 Oct 20:00</text><rect x="387" y="463" width="1" height="3" fill="#000"/><text x="386" y="475" textLength="51" lengthAdjust="spacingAndGlyphs">8 Oct 12:00</text><rect x="451" y="463" width="1" height="3" fill="#000"/><text x="450" y="475" textLength="56" lengthAdjust="spacingAndGlyphs">11 Oct 04:00</text><rect x="515" y="463" width="1" height="3" fill="#000"/><text x="514" y="475" textLength="55" lengthAdjust="spacingAndGlyphs">15 Oct 20:00</text>
</g>
<g shape-rendering="crispEdges"><rect x="6" y="9" width="7" height="1" fill="#000"/><rect x="7" y="10" width="5" height="1" fill="#000"/><rect x="8" y="11" width="3" height="1" fill="#000"/><rect x="9" y="12" width="1" height="1" fill="#000"/></g>
<text x="18" y="14" textLength="57.5" lengthAdjust="spacingAndGlyphs">AUDUSD,H4</text>
<text x="80.2" y="14" textLength="29.5" lengthAdjust="spacingAndGlyphs">0.9616</text>
<text x="110.8" y="14" textLength="29.5" lengthAdjust="spacingAndGlyphs">0.9620</text>
<text x="142" y="14" textLength="29.5" lengthAdjust="spacingAndGlyphs">0.9613</text>
<text x="172.5" y="14" textLength="29.5" lengthAdjust="spacingAndGlyphs">0.9617</text>
<text x="6.5" y="458" textLength="294" lengthAdjust="spacingAndGlyphs">RoboForex - MetaTrader 4, © 2001-2013, MetaQuotes Software Corp.</text>
<g transform="translate(441,90.3)"><path d="M0,5.8 L1.6,4.6 L3.4,7.6 L10.3,-0.4 L11,0.3 L3.6,9.4 L2.6,9.4 Z" fill="#ff0000"/></g>
<g transform="translate(181,420.3)"><path d="M0,5.8 L1.6,4.6 L3.4,7.6 L10.3,-0.4 L11,0.3 L3.6,9.4 L2.6,9.4 Z" fill="#ff0000"/></g>
</svg>
</body></html>
